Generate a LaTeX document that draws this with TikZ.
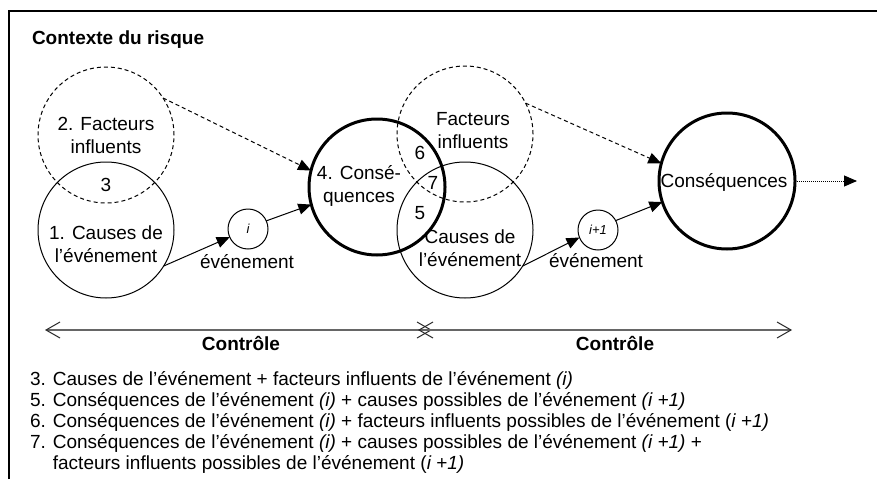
\documentclass[tikz,border=0pt]{standalone}
\usepackage{fontspec}
\setmainfont{Liberation Sans}
\usetikzlibrary{arrows.meta}
\begin{document}
\begin{tikzpicture}[x=1pt,y=-1pt,
  every node/.style={inner sep=0pt, outer sep=0pt},
  ring/.style={circle, draw, line width=1pt, minimum size=136pt},
  dashring/.style={ring, dash pattern=on 4pt off 3pt},
  boldring/.style={circle, draw, line width=3pt, minimum size=136pt},
  evt/.style={circle, draw, line width=1pt, minimum size=40pt,
    font=\fontsize{13}{15}\selectfont\itshape},
  lbl/.style={font=\fontsize{19}{23}\selectfont, align=center},
  head/.style={font=\fontsize{19}{23}\selectfont\bfseries},
  legline/.style={anchor=base west, font=\fontsize{19}{21}\selectfont},
  link/.style={line width=1pt, -{Triangle[length=13pt,width=11pt]}},
  dlink/.style={link, dash pattern=on 4pt off 3pt},
  span/.style={line width=1.5pt, draw=black!60,
    {Straight Barb[length=14pt,width=16pt,line width=1pt,color=black!85]}-{Straight Barb[length=14pt,width=16pt,line width=1pt,color=black!85]}}
]
\useasboundingbox (0,0) rectangle (877,479);

% open frame
\draw[line width=1.5pt] (9,479) -- (9,11) -- (877,11);
\node[head, anchor=base west] (title) at (32,44.8) {Contexte du risque};

% event i
\node[dashring] (f1) at (106,135) {};
\node[ring] (c1) at (106,230) {};
\node[boldring] (q1) at (377,187) {};
\node[evt] (e1) at (248,229) {i};
\node[lbl] (tf1) at (106,135) {2. Facteurs\\influents};
\node[lbl] (t3) at (106,185) {3};
\node[lbl] (tc1) at (106,244) {1. Causes de\\l’événement};
\node[lbl] (te1) at (247,262) {événement};
\node[lbl] (tq1) at (359,186) {4. Consé-\\quences};

% event i+1
\node[dashring] (f2) at (465,134) {};
\node[ring] (c2) at (465,230) {};
\node[boldring] (q2) at (727,181) {};
\node[evt] (e2) at (598,230) {i+1};
\node[lbl] (tf2) at (473,131) {Facteurs\\influents};
\node[lbl] (t6) at (420,153) {6};
\node[lbl] (t7) at (433,183) {7};
\node[lbl] (t5) at (420,213) {5};
\node[lbl] (tc2) at (470,248) {Causes de\\l’événement};
\node[lbl] (te2) at (596,261) {événement};
\node[lbl] (tq2) at (724,182) {Conséquences};
\coordinate (next) at (857,181);

% connectors
\draw[link] (c1.-32) -- (e1.204);
\draw[link] (e1.24) -- (q1.195);
\draw[dlink] (f1.33) -- (q1.166);
\draw[link] (c2.-32) -- (e2.202);
\draw[link] (e2.28) -- (q2.198);
\draw[dlink] (f2.27) -- (q2.165);
\draw[line width=1pt, dash pattern=on 1pt off 1pt, -{Triangle[length=13pt,width=11pt]}] (q2.east) -- (next);

% control spans
\coordinate (s1a) at (45,330);
\coordinate (s1b) at (432,330);
\coordinate (s2a) at (418,330);
\coordinate (s2b) at (792,330);
\draw[span] (s1a) -- (s1b);
\draw[span] (s2a) -- (s2b);
\node[head] (k1) at (241,343) {Contrôle};
\node[head] (k2) at (615,343) {Contrôle};

% legend
\node[legline] (l3) at (30,385) {3. Causes de l’événement + facteurs influents de l’événement \textit{(i)}};
\node[legline] (l5) at (30,406) {5. Conséquences de l’événement \textit{(i)} + causes possibles de l’événement \textit{(i +1)}};
\node[legline] (l6) at (30,427) {6. Conséquences de l’événement \textit{(i)} + facteurs influents possibles de l’événement (\textit{i +1)}};
\node[legline] (l7) at (30,448) {7. Conséquences de l’événement \textit{(i)} + causes possibles de l’événement \textit{(i +1)} +};
\node[legline] (l7b) at (30,469) {\phantom{7. }facteurs influents possibles de l’événement (\textit{i +1)}};
\end{tikzpicture}
\end{document}
